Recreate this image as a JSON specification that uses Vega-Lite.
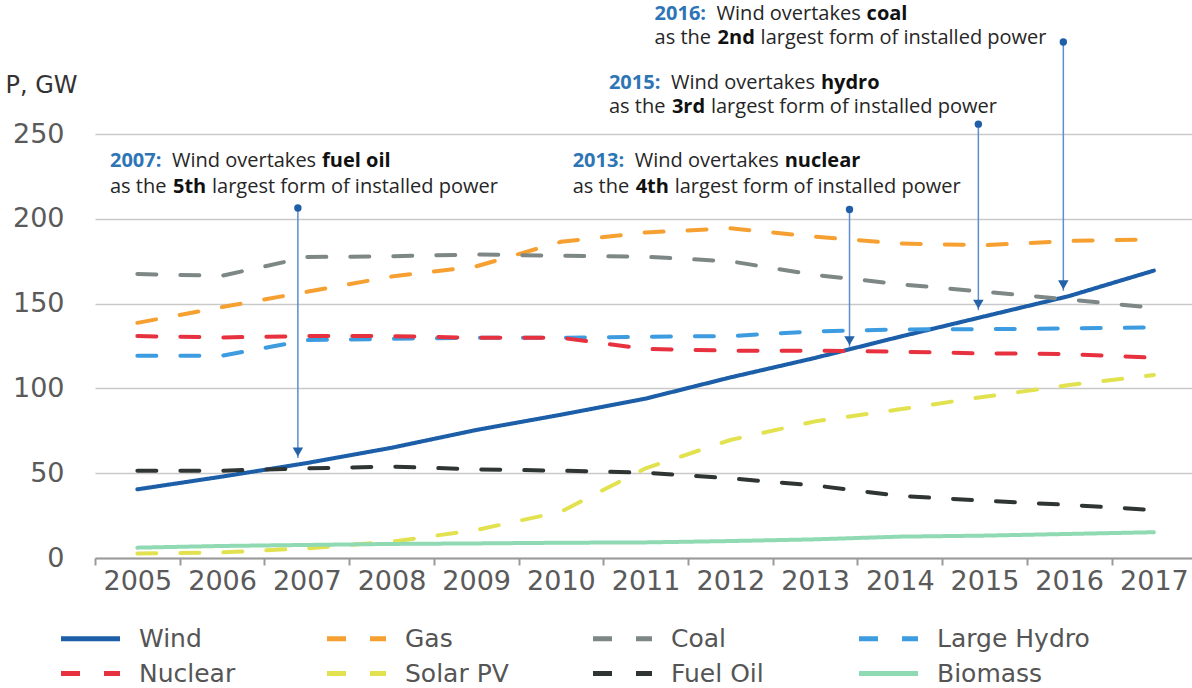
{
  "$schema": "https://vega.github.io/schema/vega-lite/v6.json",
  "width": 1097,
  "height": 551,
  "autosize": "none",
  "padding": {"left": 95, "top": 7, "right": 0, "bottom": 130},
  "background": "white",
  "config": {"view": {"stroke": null}, "font": "DejaVu Sans"},
  "datasets": {
    "series": [
      {"x": 2005, "y": 40.5, "source": "Wind"}, {"x": 2006, "y": 48, "source": "Wind"}, {"x": 2007, "y": 56, "source": "Wind"}, {"x": 2008, "y": 65, "source": "Wind"}, {"x": 2009, "y": 75.5, "source": "Wind"}, {"x": 2010, "y": 84.5, "source": "Wind"}, {"x": 2011, "y": 94, "source": "Wind"}, {"x": 2012, "y": 106.5, "source": "Wind"}, {"x": 2013, "y": 118, "source": "Wind"}, {"x": 2014, "y": 130.5, "source": "Wind"}, {"x": 2015, "y": 142.5, "source": "Wind"}, {"x": 2016, "y": 154.5, "source": "Wind"}, {"x": 2017, "y": 169.5, "source": "Wind"},
      {"x": 2005, "y": 138.7, "source": "Gas"}, {"x": 2006, "y": 148, "source": "Gas"}, {"x": 2007, "y": 157, "source": "Gas"}, {"x": 2008, "y": 166, "source": "Gas"}, {"x": 2009, "y": 172, "source": "Gas"}, {"x": 2010, "y": 186.5, "source": "Gas"}, {"x": 2011, "y": 192, "source": "Gas"}, {"x": 2012, "y": 194.5, "source": "Gas"}, {"x": 2013, "y": 189.5, "source": "Gas"}, {"x": 2014, "y": 185.5, "source": "Gas"}, {"x": 2015, "y": 184.5, "source": "Gas"}, {"x": 2016, "y": 187, "source": "Gas"}, {"x": 2017, "y": 188, "source": "Gas"},
      {"x": 2005, "y": 167.5, "source": "Coal"}, {"x": 2006, "y": 166.5, "source": "Coal"}, {"x": 2007, "y": 177.5, "source": "Coal"}, {"x": 2008, "y": 178, "source": "Coal"}, {"x": 2009, "y": 179, "source": "Coal"}, {"x": 2010, "y": 178.3, "source": "Coal"}, {"x": 2011, "y": 177.7, "source": "Coal"}, {"x": 2012, "y": 175, "source": "Coal"}, {"x": 2013, "y": 167, "source": "Coal"}, {"x": 2014, "y": 161.5, "source": "Coal"}, {"x": 2015, "y": 157, "source": "Coal"}, {"x": 2016, "y": 152.5, "source": "Coal"}, {"x": 2017, "y": 147.5, "source": "Coal"},
      {"x": 2005, "y": 119.3, "source": "Large Hydro"}, {"x": 2006, "y": 119.3, "source": "Large Hydro"}, {"x": 2007, "y": 128.5, "source": "Large Hydro"}, {"x": 2008, "y": 129.3, "source": "Large Hydro"}, {"x": 2009, "y": 129.9, "source": "Large Hydro"}, {"x": 2010, "y": 129.9, "source": "Large Hydro"}, {"x": 2011, "y": 130.5, "source": "Large Hydro"}, {"x": 2012, "y": 130.9, "source": "Large Hydro"}, {"x": 2013, "y": 133.7, "source": "Large Hydro"}, {"x": 2014, "y": 134.8, "source": "Large Hydro"}, {"x": 2015, "y": 135, "source": "Large Hydro"}, {"x": 2016, "y": 135.4, "source": "Large Hydro"}, {"x": 2017, "y": 136, "source": "Large Hydro"},
      {"x": 2005, "y": 130.9, "source": "Nuclear"}, {"x": 2006, "y": 130.1, "source": "Nuclear"}, {"x": 2007, "y": 130.9, "source": "Nuclear"}, {"x": 2008, "y": 130.9, "source": "Nuclear"}, {"x": 2009, "y": 129.9, "source": "Nuclear"}, {"x": 2010, "y": 129.9, "source": "Nuclear"}, {"x": 2011, "y": 123.3, "source": "Nuclear"}, {"x": 2012, "y": 122.3, "source": "Nuclear"}, {"x": 2013, "y": 122.3, "source": "Nuclear"}, {"x": 2014, "y": 121.7, "source": "Nuclear"}, {"x": 2015, "y": 120.7, "source": "Nuclear"}, {"x": 2016, "y": 120.3, "source": "Nuclear"}, {"x": 2017, "y": 118.1, "source": "Nuclear"},
      {"x": 2005, "y": 2.7, "source": "Solar PV"}, {"x": 2006, "y": 3.3, "source": "Solar PV"}, {"x": 2007, "y": 5.7, "source": "Solar PV"}, {"x": 2008, "y": 9.6, "source": "Solar PV"}, {"x": 2009, "y": 16.5, "source": "Solar PV"}, {"x": 2010, "y": 27.3, "source": "Solar PV"}, {"x": 2011, "y": 52.9, "source": "Solar PV"}, {"x": 2012, "y": 69.6, "source": "Solar PV"}, {"x": 2013, "y": 80.6, "source": "Solar PV"}, {"x": 2014, "y": 87.7, "source": "Solar PV"}, {"x": 2015, "y": 95.1, "source": "Solar PV"}, {"x": 2016, "y": 102, "source": "Solar PV"}, {"x": 2017, "y": 107.9, "source": "Solar PV"},
      {"x": 2005, "y": 51.5, "source": "Fuel Oil"}, {"x": 2006, "y": 51.5, "source": "Fuel Oil"}, {"x": 2007, "y": 52.9, "source": "Fuel Oil"}, {"x": 2008, "y": 53.9, "source": "Fuel Oil"}, {"x": 2009, "y": 52.3, "source": "Fuel Oil"}, {"x": 2010, "y": 51.5, "source": "Fuel Oil"}, {"x": 2011, "y": 50.3, "source": "Fuel Oil"}, {"x": 2012, "y": 47, "source": "Fuel Oil"}, {"x": 2013, "y": 42.8, "source": "Fuel Oil"}, {"x": 2014, "y": 36.6, "source": "Fuel Oil"}, {"x": 2015, "y": 33.8, "source": "Fuel Oil"}, {"x": 2016, "y": 31.3, "source": "Fuel Oil"}, {"x": 2017, "y": 28.3, "source": "Fuel Oil"},
      {"x": 2005, "y": 6.1, "source": "Biomass"}, {"x": 2006, "y": 7.1, "source": "Biomass"}, {"x": 2007, "y": 7.7, "source": "Biomass"}, {"x": 2008, "y": 8.3, "source": "Biomass"}, {"x": 2009, "y": 8.6, "source": "Biomass"}, {"x": 2010, "y": 9, "source": "Biomass"}, {"x": 2011, "y": 9.2, "source": "Biomass"}, {"x": 2012, "y": 10, "source": "Biomass"}, {"x": 2013, "y": 11, "source": "Biomass"}, {"x": 2014, "y": 12.6, "source": "Biomass"}, {"x": 2015, "y": 13.2, "source": "Biomass"}, {"x": 2016, "y": 14.2, "source": "Biomass"}, {"x": 2017, "y": 15.2, "source": "Biomass"}
    ],
    "arrows": [
      {"x": 2006.895, "y": 206.4, "y2": 59.0, "yh": 62.5},
      {"x": 2013.407, "y": 205.6, "y2": 124.6, "yh": 128.1},
      {"x": 2014.928, "y": 255.9, "y2": 146.2, "yh": 149.7},
      {"x": 2015.931, "y": 304.4, "y2": 157.6, "yh": 161.1}
    ],
    "notes": [
      {"x": 2004.677, "y": 230.7, "seg": "A", "text": "2007:"},
      {"x": 2004.677, "y": 230.7, "seg": "B", "text": "Wind overtakes"},
      {"x": 2004.677, "y": 230.7, "seg": "C", "text": "fuel oil"},
      {"x": 2004.677, "y": 215.3, "seg": "D", "text": "as the"},
      {"x": 2004.677, "y": 215.3, "seg": "E", "text": "5th"},
      {"x": 2004.677, "y": 215.3, "seg": "F", "text": "largest form of installed power"},
      {"x": 2010.139, "y": 230.7, "seg": "A", "text": "2013:"},
      {"x": 2010.139, "y": 230.7, "seg": "B", "text": "Wind overtakes"},
      {"x": 2010.139, "y": 230.7, "seg": "C", "text": "nuclear"},
      {"x": 2010.139, "y": 215.3, "seg": "D", "text": "as the"},
      {"x": 2010.139, "y": 215.3, "seg": "E", "text": "4th"},
      {"x": 2010.139, "y": 215.3, "seg": "F", "text": "largest form of installed power"},
      {"x": 2010.567, "y": 276.4, "seg": "A", "text": "2015:"},
      {"x": 2010.567, "y": 276.4, "seg": "B", "text": "Wind overtakes"},
      {"x": 2010.567, "y": 276.4, "seg": "C", "text": "hydro"},
      {"x": 2010.567, "y": 262.2, "seg": "D", "text": "as the"},
      {"x": 2010.567, "y": 262.2, "seg": "E", "text": "3rd"},
      {"x": 2010.567, "y": 262.2, "seg": "F", "text": "largest form of installed power"},
      {"x": 2011.106, "y": 317.6, "seg": "A", "text": "2016:"},
      {"x": 2011.106, "y": 317.6, "seg": "B", "text": "Wind overtakes"},
      {"x": 2011.106, "y": 317.6, "seg": "C", "text": "coal"},
      {"x": 2011.106, "y": 302.9, "seg": "D", "text": "as the"},
      {"x": 2011.106, "y": 302.9, "seg": "E", "text": "2nd"},
      {"x": 2011.106, "y": 302.9, "seg": "G", "text": "largest form of installed power"}
    ]
  },
  "encoding": {
    "x": {
      "field": "x", "type": "quantitative", "title": null,
      "scale": {"domain": [2004.5, 2017.45], "nice": false, "zero": false},
      "axis": {
        "values": [2005, 2006, 2007, 2008, 2009, 2010, 2011, 2012, 2013, 2014, 2015, 2016, 2017],
        "format": "d", "grid": false,
        "tickOffset": -42.38, "labelOffset": 42.38,
        "domainColor": "#9a9a9a", "domainWidth": 2,
        "tickColor": "#9a9a9a", "tickWidth": 2, "tickSize": 7,
        "labelFont": "DejaVu Sans", "labelFontSize": 27, "labelColor": "#5a5a5a",
        "labelPadding": 3, "labelFlush": false, "labelOverlap": false
      }
    },
    "y": {
      "field": "y", "type": "quantitative", "title": "P, GW",
      "scale": {"domain": [0, 325], "nice": false},
      "axis": {
        "values": [0, 50, 100, 150, 200, 250],
        "domain": false, "ticks": false,
        "labelFont": "DejaVu Sans", "labelFontSize": 27, "labelColor": "#5a5a5a", "labelPadding": 31,
        "gridColor": "#c9c9c9", "gridWidth": 1.5,
        "titleAngle": 0, "titleAlign": "left", "titleBaseline": "alphabetic",
        "titleX": -90, "titleY": 85,
        "titleFont": "DejaVu Sans", "titleFontSize": 24, "titleFontWeight": "normal", "titleColor": "#333333"
      }
    }
  },
  "layer": [
    {
      "data": {"name": "series"},
      "mark": {"type": "line", "strokeWidth": 4, "strokeCap": "round"},
      "encoding": {
        "color": {
          "field": "source", "type": "nominal",
          "scale": {
            "domain": ["Wind", "Gas", "Coal", "Large Hydro", "Nuclear", "Solar PV", "Fuel Oil", "Biomass"],
            "range": ["#1c5ea8", "#f6a031", "#7d8886", "#3d9be0", "#e8313f", "#e2e250", "#2f3533", "#8fd9b3"]
          },
          "legend": {
            "title": null, "orient": "none", "direction": "horizontal", "legendX": -17, "legendY": 619,
            "columns": 4, "gridAlign": "all", "columnPadding": 25, "rowPadding": 9,
            "symbolType": "M-2.95,0H2.95", "symbolSize": 400, "symbolStrokeWidth": 5,
            "labelFont": "DejaVu Sans", "labelFontSize": 25, "labelColor": "#555555",
            "labelOffset": 36, "padding": 0, "labelLimit": 300
          }
        },
        "strokeDash": {
          "field": "source", "type": "nominal",
          "scale": {
            "domain": ["Wind", "Gas", "Coal", "Large Hydro", "Nuclear", "Solar PV", "Fuel Oil", "Biomass"],
            "range": [[1, 0], [19, 24], [19, 24], [19, 24], [19, 24], [19, 24], [19, 24], [1, 0]]
          },
          "legend": {
            "title": null, "orient": "none", "direction": "horizontal", "legendX": -17, "legendY": 619,
            "columns": 4, "gridAlign": "all", "columnPadding": 25, "rowPadding": 9,
            "symbolType": "M-2.95,0H2.95", "symbolSize": 400, "symbolStrokeWidth": 5,
            "labelFont": "DejaVu Sans", "labelFontSize": 25, "labelColor": "#555555",
            "labelOffset": 36, "padding": 0, "labelLimit": 300
          }
        }
      }
    },
    {
      "data": {"name": "arrows"},
      "mark": {"type": "rule", "color": "#5b8fd0", "strokeWidth": 1.5},
      "encoding": {"y2": {"field": "y2"}}
    },
    {
      "data": {"name": "arrows"},
      "mark": {"type": "point", "shape": "triangle-down", "filled": true, "color": "#2563a8", "size": 110, "opacity": 1},
      "encoding": {"y": {"field": "yh", "type": "quantitative", "title": "P, GW"}}
    },
    {
      "data": {"name": "arrows"},
      "mark": {"type": "circle", "color": "#1f5fa8", "size": 55, "opacity": 1}
    },
    {
      "data": {"name": "notes"},
      "transform": [{"filter": "datum.seg == 'A'"}],
      "mark": {"type": "text", "align": "left", "baseline": "alphabetic", "font": "Open Sans", "fontSize": 20, "fontWeight": "bold", "color": "#2e75b6"},
      "encoding": {"text": {"field": "text"}}
    },
    {
      "data": {"name": "notes"},
      "transform": [{"filter": "datum.seg == 'B'"}],
      "mark": {"type": "text", "align": "left", "baseline": "alphabetic", "font": "Open Sans", "fontSize": 20, "dx": 62, "color": "#262626"},
      "encoding": {"text": {"field": "text"}}
    },
    {
      "data": {"name": "notes"},
      "transform": [{"filter": "datum.seg == 'C'"}],
      "mark": {"type": "text", "align": "left", "baseline": "alphabetic", "font": "Open Sans", "fontSize": 20, "fontWeight": "bold", "dx": 212, "color": "#111111"},
      "encoding": {"text": {"field": "text"}}
    },
    {
      "data": {"name": "notes"},
      "transform": [{"filter": "datum.seg == 'D'"}],
      "mark": {"type": "text", "align": "left", "baseline": "alphabetic", "font": "Open Sans", "fontSize": 20, "color": "#262626"},
      "encoding": {"text": {"field": "text"}}
    },
    {
      "data": {"name": "notes"},
      "transform": [{"filter": "datum.seg == 'E'"}],
      "mark": {"type": "text", "align": "left", "baseline": "alphabetic", "font": "Open Sans", "fontSize": 20, "fontWeight": "bold", "dx": 63, "color": "#111111"},
      "encoding": {"text": {"field": "text"}}
    },
    {
      "data": {"name": "notes"},
      "transform": [{"filter": "datum.seg == 'F'"}],
      "mark": {"type": "text", "align": "left", "baseline": "alphabetic", "font": "Open Sans", "fontSize": 20, "dx": 102, "color": "#262626"},
      "encoding": {"text": {"field": "text"}}
    },
    {
      "data": {"name": "notes"},
      "transform": [{"filter": "datum.seg == 'G'"}],
      "mark": {"type": "text", "align": "left", "baseline": "alphabetic", "font": "Open Sans", "fontSize": 20, "dx": 106, "color": "#262626"},
      "encoding": {"text": {"field": "text"}}
    }
  ]
}
